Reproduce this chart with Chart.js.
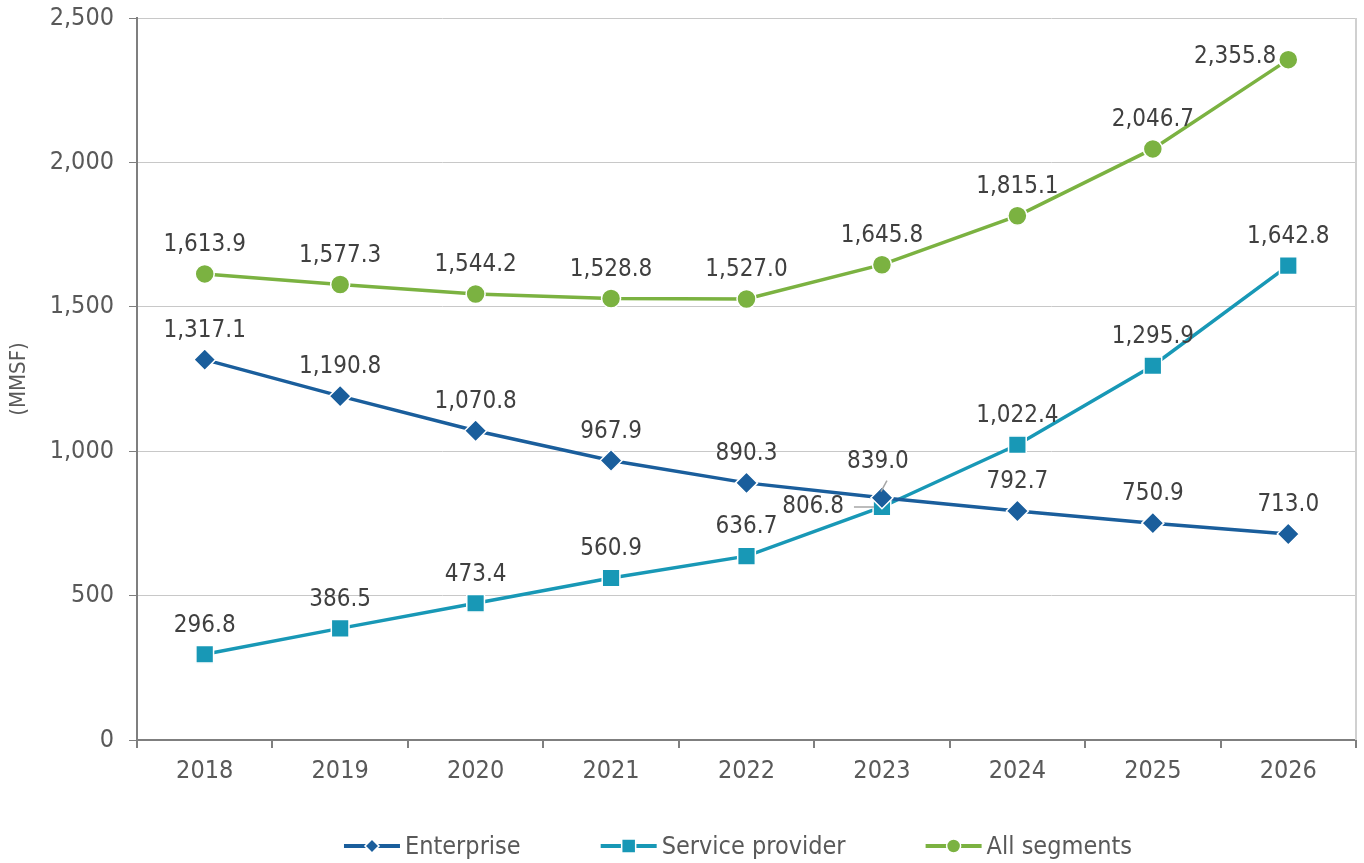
<!DOCTYPE html>
<html>
<head>
<meta charset="utf-8">
<script src="https://cdn.jsdelivr.net/npm/chart.js@4.4.0/dist/chart.umd.min.js"></script>
<style>
  html, body { margin: 0; padding: 0; background: #fff; overflow: hidden; }
  #wrap { width: 1364px; height: 863px; overflow: hidden; }
</style>
</head>
<body>
<div id="wrap"><canvas id="chart" width="1370" height="863"></canvas></div>
<script>
// values (MMSF)
var years = ['2018', '2019', '2020', '2021', '2022', '2023', '2024', '2025', '2026'];
var enterprise = [1317.1, 1190.8, 1070.8, 967.9, 890.3, 839.0, 792.7, 750.9, 713.0];
var serviceProvider = [296.8, 386.5, 473.4, 560.9, 636.7, 806.8, 1022.4, 1295.9, 1642.8];
var allSegments = [1613.9, 1577.3, 1544.2, 1528.8, 1527.0, 1645.8, 1815.1, 2046.7, 2355.8];
var yTicks = [0, 500, 1000, 1500, 2000, 2500];

var FONT = '"DejaVu Sans Condensed", "Liberation Sans Narrow", "DejaVu Sans", sans-serif';
var C_ENT = '#1a5e9c', C_SP = '#1898b6', C_ALL = '#7bb241';

function fmt(v) {
  return v.toLocaleString('en-US', { minimumFractionDigits: 1, maximumFractionDigits: 1 });
}

function marker(g, style, x, y, color) {
  g.fillStyle = color;
  g.strokeStyle = '#fff'; g.lineWidth = 1.5;
  g.beginPath();
  if (style == 'rectRot') { g.moveTo(x, y - 7); g.lineTo(x + 7, y); g.lineTo(x, y + 7); g.lineTo(x - 7, y); g.closePath(); }
  else if (style == 'rect') { g.rect(x - 7, y - 7, 14, 14); }
  else { g.arc(x, y, 7, 0, Math.PI * 2); }
  g.fill(); g.stroke();
}

// per-point label placement tweaks
var tweaks = {
  '0-5': { dx: -4, dy: -36, align: 'center', leader: [[5, -17], [-1, -6]] },
  '1-5': { dx: -38, dy: 0, align: 'right', leader: [[-28, 0], [-8, 0]] },
  '2-8': { dx: -12, dy: -3, align: 'right' }
};

var dataLabels = {
  id: 'dataLabels',
  beforeDatasetsDraw: function (chart) {
    var a = chart.chartArea, ctx = chart.ctx;
    ctx.save();
    ctx.strokeStyle = '#d0d0d0'; ctx.lineWidth = 2;
    ctx.beginPath(); ctx.moveTo(a.right, a.top); ctx.lineTo(a.right, a.bottom); ctx.stroke();
    ctx.restore();
  },
  afterDatasetsDraw: function (chart) {
    var ctx = chart.ctx;
    ctx.save();
    ctx.font = '24px ' + FONT;
    ctx.fillStyle = '#404040';
    ctx.textBaseline = 'middle';
    chart.data.datasets.forEach(function (ds, di) {
      chart.getDatasetMeta(di).data.forEach(function (pt, i) {
        var t = tweaks[di + '-' + i] || { dx: 0, dy: -29, align: 'center' };
        ctx.textAlign = t.align;
        ctx.fillText(fmt(ds.data[i]), pt.x + t.dx, pt.y + t.dy);
        if (t.leader) {
          ctx.strokeStyle = '#a6a6a6'; ctx.lineWidth = 1.5;
          ctx.beginPath();
          ctx.moveTo(pt.x + t.leader[0][0], pt.y + t.leader[0][1]);
          ctx.lineTo(pt.x + t.leader[1][0], pt.y + t.leader[1][1]);
          ctx.stroke();
        }
      });
    });
    ctx.restore();
  },
  // legend drawn by hand: line + marker + label, centred under the plot
  afterDraw: function (chart) {
    var ctx = chart.ctx, y = 846, lineW = 56, gapText = 5, gapItem = 80;
    ctx.save();
    ctx.font = '25px ' + FONT;
    ctx.textBaseline = 'middle';
    ctx.textAlign = 'left';
    var dss = chart.data.datasets;
    var widths = dss.map(function (ds) { return lineW + gapText + ctx.measureText(ds.label).width; });
    var total = widths.reduce(function (a, b) { return a + b; }, 0) + gapItem * (dss.length - 1);
    var x = 738 - total / 2;
    dss.forEach(function (ds, i) {
      ctx.strokeStyle = ds.borderColor; ctx.lineWidth = 4;
      ctx.beginPath(); ctx.moveTo(x, y); ctx.lineTo(x + lineW, y); ctx.stroke();
      marker(ctx, ds.pointStyle, x + lineW / 2, y, ds.borderColor);
      ctx.fillStyle = '#595959';
      ctx.fillText(ds.label, x + lineW + gapText, y + 1);
      x += widths[i] + gapItem;
    });
    ctx.restore();
  }
};

function series(label, data, color, style, r) {
  return {
    label: label, data: data,
    borderColor: color, backgroundColor: color,
    borderWidth: 3.5,
    pointStyle: style, pointRadius: r, pointHoverRadius: r,
    pointBackgroundColor: color, pointBorderColor: '#fff', pointBorderWidth: 1.5,
    tension: 0
  };
}

new Chart(document.getElementById('chart'), {
  type: 'line',
  data: {
    labels: years,
    datasets: [
      series('Enterprise', enterprise, C_ENT, 'rectRot', 11),
      series('Service provider', serviceProvider, C_SP, 'rect', 12.5),
      series('All segments', allSegments, C_ALL, 'circle', 9.5)
    ]
  },
  options: {
    responsive: false,
    animation: false,
    layout: { padding: { top: 18, right: 8, left: 0, bottom: 63 } },
    plugins: {
      tooltip: { enabled: false },
      legend: { display: false }
    },
    scales: {
      x: {
        offset: true,
        grid: { offset: true, drawOnChartArea: false, drawTicks: true, tickLength: 8, tickColor: '#7f7f7f', lineWidth: 2 },
        border: { color: '#7f7f7f', width: 2 },
        ticks: { color: '#595959', font: { family: FONT, size: 25 }, padding: 8 },
        afterFit: function (s) { s.height = 60; s.paddingLeft = 0; s.paddingRight = 0; }
      },
      y: {
        min: 0, max: 2500,
        afterBuildTicks: function (s) { s.ticks = yTicks.map(function (v) { return { value: v }; }); },
        grid: { color: '#c8c8c8', lineWidth: 1, tickLength: 8, tickColor: '#7f7f7f' },
        border: { color: '#7f7f7f', width: 2 },
        ticks: { color: '#595959', font: { family: FONT, size: 25 }, padding: 15,
                 callback: function (v) { return v.toLocaleString('en-US'); } },
        title: { display: true, text: '(MMSF)', color: '#595959', font: { family: FONT, size: 22 }, padding: { top: 6, bottom: 0 } },
        afterFit: function (s) { s.width = 137; s.paddingTop = 0; s.paddingBottom = 0; }
      }
    }
  },
  plugins: [dataLabels]
});
</script>
</body>
</html>
